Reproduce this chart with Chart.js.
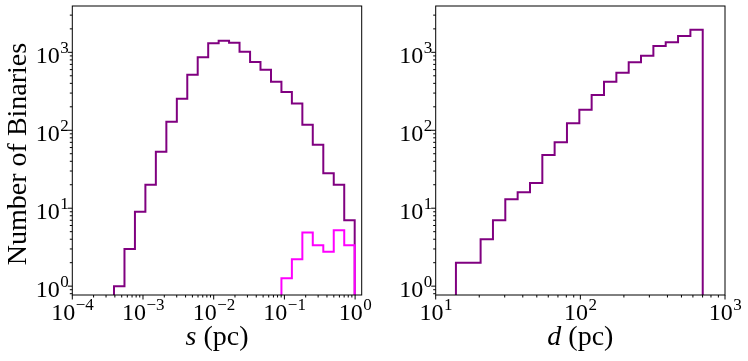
<!DOCTYPE html>
<html>
<head>
<meta charset="utf-8">
<script src="https://cdn.jsdelivr.net/npm/chart.js@4.4.0/dist/chart.umd.min.js"></script>
<style>
    html, body { margin: 0; padding: 0; background: #fff; }
    #wrap { position: relative; width: 748px; height: 361px; }
    .panel { position: absolute; top: 0; width: 374px; height: 361px; }
</style>
</head>
<body>
<div id="wrap">
    <div class="panel" style="left:0"><canvas id="sepChart"></canvas></div>
    <div class="panel" style="left:374px"><canvas id="distChart"></canvas></div>
</div>
<script>
/* =============================================
 * Binary histograms — separation s and distance d
 * ============================================= */

// ── Data (bin edges + counts) ──
const sepEdges = [3.89e-4, 5.47e-4, 7.69e-4, 1.081e-3, 1.52e-3, 2.14e-3, 3.01e-3, 4.23e-3, 5.94e-3, 8.36e-3,
    1.175e-2, 1.65e-2, 2.32e-2, 3.27e-2, 4.59e-2, 6.46e-2, 9.08e-2, 0.1276, 0.1795, 0.252, 0.355, 0.499, 0.702, 0.987];
const sepCounts = [1, 3, 9, 20, 53, 129, 254, 516, 863, 1306, 1409, 1328, 1018, 750, 598, 419, 309, 221, 118, 65, 28, 20, 7];
const sepPinkEdges = [9.08e-2, 0.1276, 0.1795, 0.252, 0.355, 0.499, 0.702, 0.987];
const sepPinkCounts = [1.26, 2.22, 4.89, 3.36, 2.76, 5.23, 3.36];

const distEdges = [13.80, 16.80, 20.44, 24.88, 30.28, 36.86, 44.86, 54.6, 66.4, 80.8, 98.4,
    119.7, 145.7, 177.4, 215.9, 262.7, 319.8, 389.2, 473.7, 576.5, 701.5];
const distCounts = [2, 2, 4, 7, 13, 16, 21, 48, 70, 123, 183, 283, 419, 547, 745, 904, 1205, 1343, 1619, 1950];

const sepTicks = [1e-4, 1e-3, 1e-2, 1e-1, 1];
const distTicks = [10, 100, 1000];
const countTicks = [1, 10, 100, 1000];

const PURPLE = '#800080', MAGENTA = '#ff00ff';
const SERIF = '"Liberation Serif", "DejaVu Serif", serif';
const FLOOR = 0.3; // below the visible y range so steps run off the bottom

// ── Step outline like hist(histtype='step') ──
function stepPoints(edges, counts) {
    const pts = [{ x: edges[0], y: FLOOR }];
    counts.forEach((c, i) => pts.push({ x: edges[i], y: c }));
    pts.push({ x: edges[edges.length - 1], y: counts[counts.length - 1] });
    pts.push({ x: edges[edges.length - 1], y: FLOOR });
    return pts;
}

function logMinor(min, max) {
    const out = [];
    for (let k = Math.floor(Math.log10(min)); k <= Math.ceil(Math.log10(max)); k++) {
        for (let m = 1; m <= 9; m++) {
            const v = m * Math.pow(10, k);
            if (v >= min * 0.9999 && v <= max * 1.0001) out.push({ v, major: m === 1 });
        }
    }
    return out;
}

// "10" with a raised exponent
function drawPow(ctx, value, x, y, align) {
    const exp = Math.round(Math.log10(value));
    const sup = exp < 0 ? '\u2212' + (-exp) : String(exp);
    ctx.font = '24px ' + SERIF;
    const w1 = ctx.measureText('10').width;
    ctx.font = '17px ' + SERIF;
    const w2 = ctx.measureText(sup).width;
    const left = align === 'center' ? x - (w1 + w2) / 2 : x - w1 - w2;
    const base = align === 'center' ? y : y + 11;
    ctx.textAlign = 'left';
    ctx.textBaseline = 'alphabetic';
    ctx.font = '24px ' + SERIF;
    ctx.fillText('10', left, base);
    ctx.font = '17px ' + SERIF;
    ctx.fillText(sup, left + w1 + 0.5, base - 10);
}

// ── Frame, ticks, labels, titles ──
const axesDeco = {
    id: 'axesDeco',
    afterDraw(chart, args, opts) {
        const { ctx, chartArea: a, scales: { x, y } } = chart;
        ctx.save();
        ctx.fillStyle = '#000';
        ctx.strokeStyle = '#000';
        ctx.lineWidth = 1;
        ctx.strokeRect(a.left, a.top, a.right - a.left, a.bottom - a.top);

        logMinor(x.min, x.max).forEach(t => {
            const px = x.getPixelForValue(t.v);
            ctx.beginPath(); ctx.moveTo(px, a.bottom); ctx.lineTo(px, a.bottom + (t.major ? 4.5 : 2.5)); ctx.stroke();
        });
        logMinor(y.min, y.max).forEach(t => {
            const py = y.getPixelForValue(t.v);
            ctx.beginPath(); ctx.moveTo(a.left, py); ctx.lineTo(a.left - (t.major ? 4.5 : 2.5), py); ctx.stroke();
        });

        opts.xTicks.forEach(v => drawPow(ctx, v, x.getPixelForValue(v), a.bottom + 25, 'center'));
        opts.yTicks.forEach(v => drawPow(ctx, v, a.left - 4, y.getPixelForValue(v), 'right'));

        // x title: italic symbol + " (pc)"
        ctx.font = 'italic 28px ' + SERIF;
        const w1 = ctx.measureText(opts.xSym).width;
        ctx.font = '28px ' + SERIF;
        const w2 = ctx.measureText(' (pc)').width;
        const cx = (a.left + a.right) / 2 - (w1 + w2) / 2;
        ctx.textAlign = 'left';
        ctx.textBaseline = 'alphabetic';
        ctx.font = 'italic 28px ' + SERIF;
        ctx.fillText(opts.xSym, cx, 345);
        ctx.font = '28px ' + SERIF;
        ctx.fillText(' (pc)', cx + w1, 345);

        if (opts.yTitle) {
            ctx.translate(26, 154);
            ctx.rotate(-Math.PI / 2);
            ctx.textAlign = 'center';
            ctx.fillText(opts.yTitle, 0, 0);
        }
        ctx.restore();
    }
};

function makeChart(id, datasets, xMin, xMax, yWidth, padRight, deco) {
    return new Chart(document.getElementById(id), {
        type: 'line',
        data: { datasets },
        options: {
            responsive: true, maintainAspectRatio: false, animation: false,
            layout: { padding: { top: 6, right: padRight, left: 0, bottom: 0 } },
            plugins: { legend: { display: false }, tooltip: { enabled: false }, axesDeco: deco },
            elements: { point: { radius: 0 } },
            scales: {
                x: {
                    type: 'logarithmic', min: xMin, max: xMax,
                    afterBuildTicks: s => { s.ticks = deco.xTicks.map(v => ({ value: v })); },
                    afterFit: s => { s.height = 66; },
                    ticks: { display: false }, grid: { display: false }, border: { display: false }
                },
                y: {
                    type: 'logarithmic', min: 0.77, max: 3930,
                    afterBuildTicks: s => { s.ticks = deco.yTicks.map(v => ({ value: v })); },
                    afterFit: s => { s.width = yWidth; },
                    ticks: { display: false }, grid: { display: false }, border: { display: false }
                }
            }
        },
        plugins: [axesDeco]
    });
}

// 'before' = horizontal at the previous value, then vertical to the next
makeChart('sepChart', [
    { data: stepPoints(sepPinkEdges, sepPinkCounts), borderColor: MAGENTA, borderWidth: 2, stepped: 'before', fill: false, clip: 0, order: 0 },
    { data: stepPoints(sepEdges, sepCounts), borderColor: PURPLE, borderWidth: 2, stepped: 'before', fill: false, clip: 0, order: 1 }
], 1e-4, 1.24, 72.3, 12.3, { xTicks: sepTicks, yTicks: countTicks, xSym: 's', yTitle: 'Number of Binaries' });

makeChart('distChart', [
    { data: stepPoints(distEdges, distCounts), borderColor: PURPLE, borderWidth: 2, stepped: 'before', fill: false, clip: 0 }
], 10, 1000, 61.7, 23, { xTicks: distTicks, yTicks: countTicks, xSym: 'd', yTitle: '' });
</script>
</body>
</html>
